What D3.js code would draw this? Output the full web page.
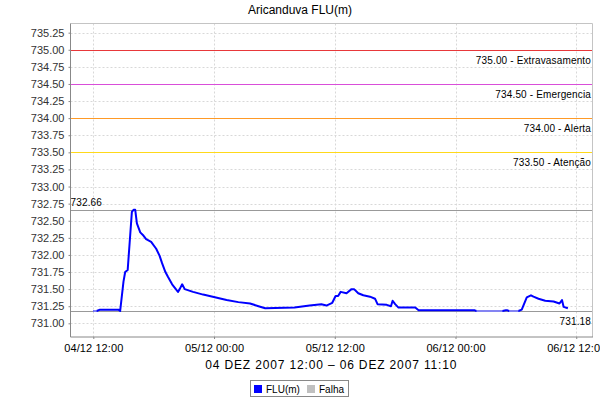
<!DOCTYPE html>
<html>
<head>
<meta charset="utf-8">
<script src="https://cdn.jsdelivr.net/npm/d3@7"></script>
<style>
  body { margin: 0; background: #fff; }
  svg { display: block; font-family: "Liberation Sans", Arial, sans-serif; }
</style>
</head>
<body>
<svg id="chart" width="600" height="400"></svg>
<script>
const title = "Aricanduva FLU(m)";
const subtitle = "04 DEZ 2007 12:00 \u2013 06 DEZ 2007 11:10";

const times = [
  "2007-12-04 12:00","2007-12-04 12:20","2007-12-04 12:40","2007-12-04 14:30","2007-12-04 14:40",
  "2007-12-04 15:00","2007-12-04 15:10","2007-12-04 15:25","2007-12-04 15:35","2007-12-04 15:50",
  "2007-12-04 16:00","2007-12-04 16:10","2007-12-04 16:20","2007-12-04 16:40","2007-12-04 17:00",
  "2007-12-04 17:15","2007-12-04 17:45","2007-12-04 18:15","2007-12-04 18:35","2007-12-04 18:50",
  "2007-12-04 19:10","2007-12-04 19:25","2007-12-04 19:50","2007-12-04 20:25","2007-12-04 20:35",
  "2007-12-04 20:50","2007-12-04 21:05","2007-12-04 21:55","2007-12-04 22:55","2007-12-05 00:05",
  "2007-12-05 01:15","2007-12-05 02:25","2007-12-05 03:35","2007-12-05 04:25","2007-12-05 05:05",
  "2007-12-05 08:00","2007-12-05 09:30","2007-12-05 10:40","2007-12-05 11:10","2007-12-05 11:45",
  "2007-12-05 12:05","2007-12-05 12:20","2007-12-05 12:35","2007-12-05 13:10","2007-12-05 13:40",
  "2007-12-05 13:55","2007-12-05 14:20","2007-12-05 14:50","2007-12-05 15:30","2007-12-05 16:00",
  "2007-12-05 16:15","2007-12-05 17:10","2007-12-05 17:35","2007-12-05 17:45","2007-12-05 18:00",
  "2007-12-05 18:20","2007-12-05 20:00","2007-12-05 20:20","2007-12-06 01:55","2007-12-06 02:05",
  "2007-12-06 04:40","2007-12-06 05:00","2007-12-06 05:10","2007-12-06 05:20","2007-12-06 06:15",
  "2007-12-06 06:35","2007-12-06 07:05","2007-12-06 07:30","2007-12-06 07:45","2007-12-06 08:15",
  "2007-12-06 08:55","2007-12-06 09:45","2007-12-06 10:20","2007-12-06 10:35","2007-12-06 10:45",
  "2007-12-06 11:10"
];
const flu = [
  731.18, 731.18, 731.20, 731.20, 731.18,
  731.61, 731.75, 731.78, 732.12, 732.63,
  732.66, 732.66, 732.46, 732.33, 732.28,
  732.23, 732.19, 732.09, 731.99, 731.88,
  731.75, 731.68, 731.57, 731.46, 731.50,
  731.57, 731.50, 731.46, 731.42, 731.38,
  731.34, 731.31, 731.29, 731.25, 731.22,
  731.23, 731.26, 731.28, 731.26, 731.30,
  731.40, 731.40, 731.46, 731.44, 731.50,
  731.50, 731.44, 731.41, 731.39, 731.36,
  731.28, 731.27, 731.25, 731.33, 731.28,
  731.23, 731.23, 731.19, 731.19, 731.18,
  731.18, 731.19, 731.19, 731.18, 731.18,
  731.20, 731.38, 731.41, 731.39, 731.36,
  731.33, 731.32, 731.29, 731.34, 731.24,
  731.22
];
const falhaStart = ["2007-12-04 12:00", "2007-12-06 02:05", "2007-12-06 05:20"];
const falhaEnd   = ["2007-12-04 12:20", "2007-12-06 04:40", "2007-12-06 06:15"];

const markerValues = [735.00, 734.50, 734.00, 733.50];
const markerNames = ["Extravasamento", "Emergencia", "Alerta", "Aten\u00e7\u00e3o"];
const maxValue = 732.66;
const minValue = 731.18;

const yTicks = [731.00, 731.25, 731.50, 731.75, 732.00, 732.25, 732.50, 732.75, 733.00,
                733.25, 733.50, 733.75, 734.00, 734.25, 734.50, 734.75, 735.00, 735.25];
const xTicks = ["2007-12-04 12:00", "2007-12-05 00:00", "2007-12-05 12:00", "2007-12-06 00:00", "2007-12-06 12:00"];
const xDomain = ["2007-12-04 09:44", "2007-12-06 13:34"];
const yDomain = [730.80, 735.384];

const legendNames = ["FLU(m)", "Falha"];

// styles
const markerColors = ["#e8383a", "#d94ed9", "#ff9a26", "#ffd91a"];
const lineColor = "#0000ff";
const falhaColor = "#8484f2";

const parse = d3.utcParse("%Y-%m-%d %H:%M");
const fmt = d3.utcFormat("%d/%m %H:%M");

const m = { left: 70.5, top: 23.5, right: 592, bottom: 337 };
const svg = d3.select("#chart");

const x = d3.scaleUtc().domain(xDomain.map(parse)).range([m.left, m.right]);
const y = d3.scaleLinear().domain(yDomain).range([m.bottom, m.top]);

const data = times.map((t, i) => ({ t: parse(t), v: flu[i] }));
const falhas = falhaStart.map((s, i) => [parse(s), parse(falhaEnd[i])]);

// grid
const g = svg.append("g");
g.selectAll(".hg").data(yTicks).enter().append("line")
  .attr("x1", m.left).attr("x2", m.right)
  .attr("y1", d => Math.round(y(d)) + 0.5).attr("y2", d => Math.round(y(d)) + 0.5)
  .attr("stroke", "#d8d8d8").attr("stroke-dasharray", "2,2");
g.selectAll(".vg").data(xTicks.map(parse)).enter().append("line")
  .attr("y1", m.top).attr("y2", m.bottom)
  .attr("x1", d => Math.round(x(d)) + 0.5).attr("x2", d => Math.round(x(d)) + 0.5)
  .attr("stroke", "#d8d8d8").attr("stroke-dasharray", "2,2");

// frame top/right
svg.append("line").attr("x1", m.left).attr("x2", m.right + 0.5).attr("y1", m.top).attr("y2", m.top)
  .attr("stroke", "#c4c4c4");
svg.append("line").attr("x1", m.right + 0.5).attr("x2", m.right + 0.5).attr("y1", m.top).attr("y2", m.bottom)
  .attr("stroke", "#c4c4c4");

// markers
markerValues.forEach((v, i) => {
  const yy = Math.round(y(v)) + 0.5;
  svg.append("line").attr("x1", m.left).attr("x2", m.right).attr("y1", yy).attr("y2", yy)
    .attr("stroke", markerColors[i]).attr("stroke-width", 1.2);
  svg.append("text").attr("x", m.right - 1).attr("y", yy + 13)
    .attr("text-anchor", "end").attr("font-size", 10).attr("letter-spacing", 0.15)
    .attr("fill", "#000").text(d3.format(".2f")(v) + " - " + markerNames[i]);
});

// max/min lines
[maxValue, minValue].forEach((v, i) => {
  const yy = Math.round(y(v)) + 0.5;
  svg.append("line").attr("x1", m.left).attr("x2", m.right).attr("y1", yy).attr("y2", yy)
    .attr("stroke", "#999").attr("stroke-width", 1.2);
  const t = svg.append("text").attr("font-size", 10).attr("letter-spacing", 0.15).attr("fill", "#000")
    .text(d3.format(".2f")(v));
  if (i === 0) t.attr("x", m.left).attr("y", yy - 4.5);
  else t.attr("x", m.right - 1).attr("y", yy + 13).attr("text-anchor", "end");
});

// data line
const line = d3.line().x(d => x(d.t)).y(d => y(d.v));
svg.append("path").datum(data).attr("d", line)
  .attr("fill", "none").attr("stroke", lineColor).attr("stroke-width", 2).attr("stroke-linejoin", "round");

const inFalha = d => falhas.some(([a, b]) => d.t >= a && d.t <= b);
svg.append("path").datum(data).attr("d", line.defined(inFalha))
  .attr("fill", "none").attr("stroke", falhaColor).attr("stroke-width", 2);

// axes
const yAxis = d3.axisLeft(y).tickValues(yTicks).tickFormat(d3.format(".2f")).tickSize(2).tickPadding(4);
const ya = svg.append("g").attr("transform", `translate(${m.left},0)`).call(yAxis);
ya.select(".domain").attr("stroke", "#888").attr("d", `M-0,${m.top}V${m.bottom}`);
ya.selectAll(".tick line").attr("stroke", "#888");
ya.selectAll("text").attr("font-size", 11).attr("font-family", "Liberation Sans, Arial, sans-serif").attr("fill", "#333");

const xAxis = d3.axisBottom(x).tickValues(xTicks.map(parse)).tickFormat(fmt).tickSize(2).tickPadding(5);
const xa = svg.append("g").attr("transform", `translate(0,${m.bottom})`).call(xAxis);
xa.select(".domain").attr("stroke", "#888").attr("d", `M${m.left},0H${m.right + 1}`);
xa.selectAll(".tick line").attr("stroke", "#888");
xa.selectAll("text").attr("font-size", 11).attr("font-family", "Liberation Sans, Arial, sans-serif")
  .attr("fill", "#000").attr("letter-spacing", 0.1);

// titles
svg.append("text").attr("x", 300).attr("y", 14).attr("text-anchor", "middle")
  .attr("font-size", 12).attr("fill", "#000").text(title);
svg.append("text").attr("x", (m.left + m.right) / 2).attr("y", 369).attr("text-anchor", "middle")
  .attr("font-size", 12).attr("letter-spacing", 0.85).attr("fill", "#000").text(subtitle);

// legend
const lg = svg.append("g");
lg.append("rect").attr("x", 250.5).attr("y", 380.5).attr("width", 98).attr("height", 16)
  .attr("fill", "#fff").attr("stroke", "#888");
const legendColors = [lineColor, "#c0c0c0"];
const legendX = [254, 307];
legendNames.forEach((n, i) => {
  lg.append("rect").attr("x", legendX[i]).attr("y", 385).attr("width", 8).attr("height", 8)
    .attr("fill", legendColors[i]);
  lg.append("text").attr("x", legendX[i] + 12).attr("y", 392.5).attr("font-size", 10)
    .attr("fill", "#000").text(n);
});
</script>
</body>
</html>
